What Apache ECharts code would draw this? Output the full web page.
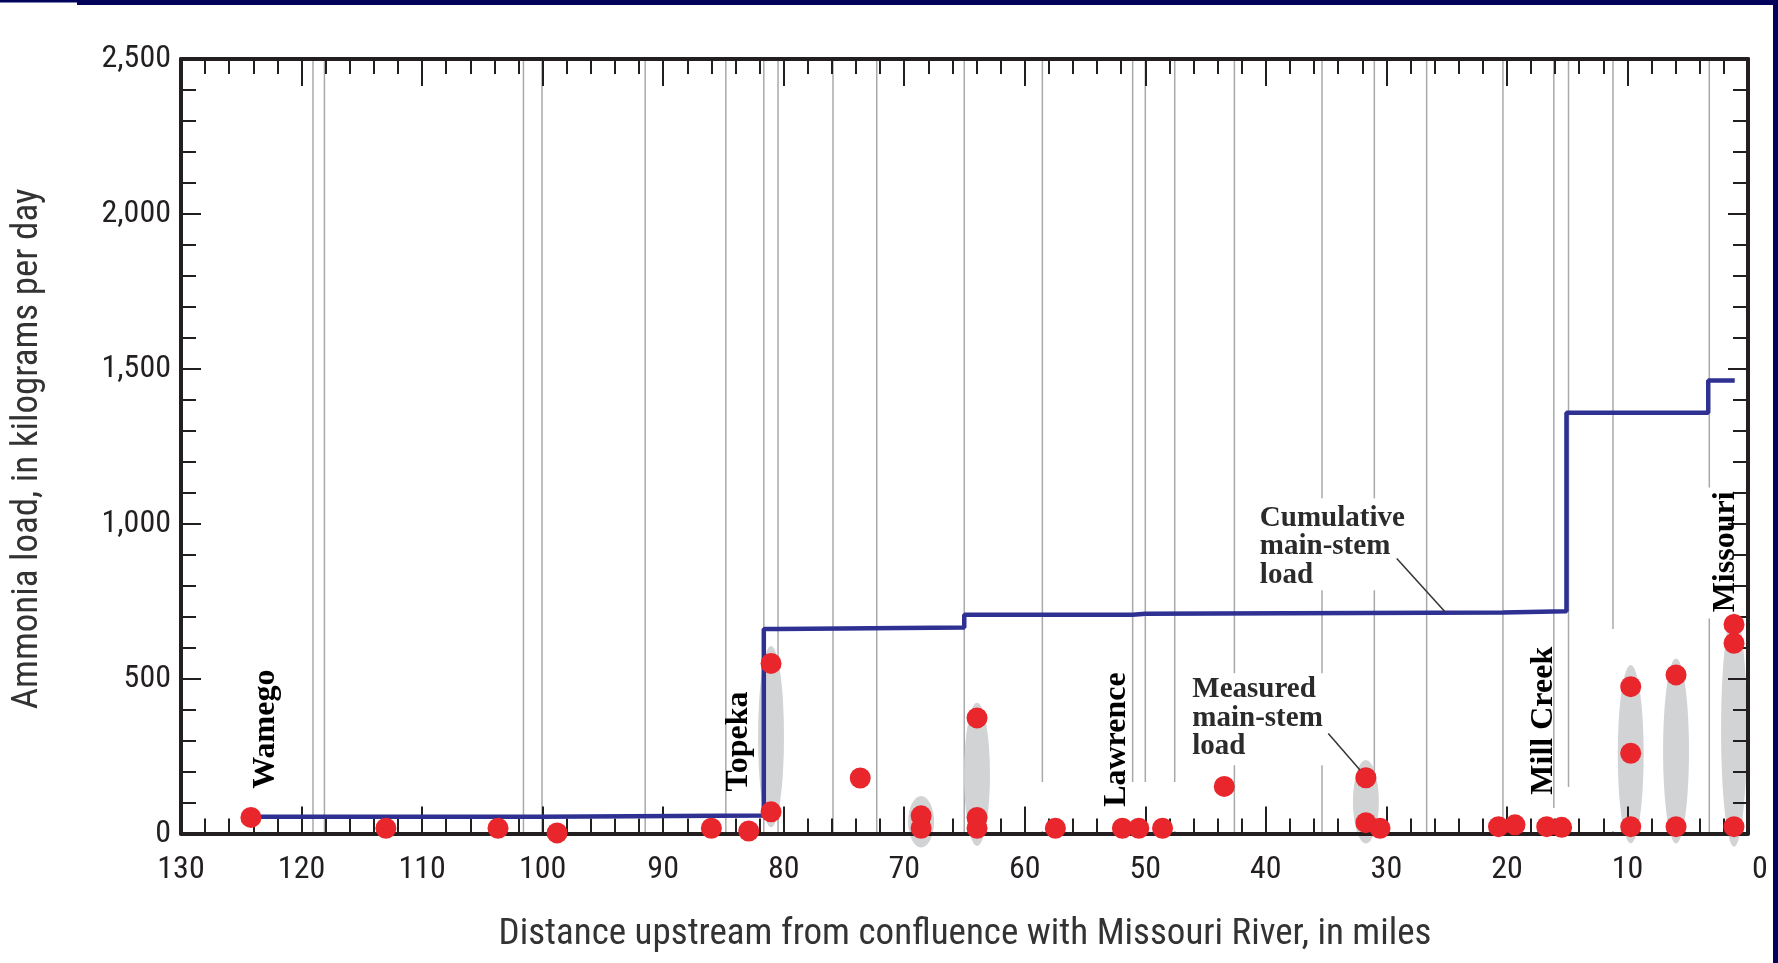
<!DOCTYPE html>
<html><head><meta charset="utf-8">
<script src="https://cdn.jsdelivr.net/npm/echarts@6/dist/echarts.min.js"></script>
<style>html,body{margin:0;padding:0;background:#fff;}#c{width:1778px;height:963px;}</style>
</head><body><div id="c"></div>
<script>
// ---------- data ----------
const xTickLabels = ['0','10','20','30','40','50','60','70','80','90','100','110','120','130'];
const yTickLabels = ['0','500','1,000','1,500','2,000','2,500'];

// measured main-stem load (red dots): river mile, kg/day
const measuredMiles = [124.2, 113.0, 103.7, 98.8, 86.0, 82.9, 81.05, 81.05, 73.65, 68.6, 68.6, 63.96, 63.96, 63.96, 57.46, 51.9, 50.54, 48.57, 43.45, 31.7, 31.7, 30.53, 20.7, 19.33, 16.7, 15.46, 9.73, 9.73, 9.73, 5.97, 5.97, 1.16, 1.16, 1.16];
const measuredLoads = [52, 17, 17, 2, 17, 8, 549, 70, 179, 57, 17, 373, 52, 17, 17, 17, 17, 17, 152, 180, 35, 17, 22, 28, 22, 20, 474, 259, 22, 512, 22, 675, 614, 22];

// cumulative main-stem load (blue step line)
const cumulativeMiles = [124.2, 100.05, 81.65, 80.47, 65.02, 51.05, 50.0, 20.33, 15.06, 3.3, 1.1];
const cumulativeLoads = [54, 58, 660, 665, 706, 709, 713, 717, 1358, 1462, 1462];

// tributary / facility reference lines (river miles)
const referenceMiles = [119.05, 118.1, 101.59, 100.05, 91.49, 84.8, 81.65, 80.47, 75.91, 72.28, 65.02, 58.54, 51.05, 50.0, 47.56, 42.61, 35.34, 31.0, 26.66, 20.33, 16.11, 14.89, 11.2, 3.21];

// ranges of measured loads (gray ovals): mile, low, high
const rangeMiles = [81.05, 68.6, 63.96, 31.7, 9.73, 5.97, 1.16];
const rangeLows  = [20, -45, -40, -32, -32, -32, -43];
const rangeHighs = [605, 121, 422, 237, 544, 565, 712];

const siteNames = ['Wamego', 'Topeka', 'Lawrence', 'Mill Creek', 'Missouri'];

// ---------- chart ----------
const NARROW = "'Liberation Sans Narrow','Arial Narrow','Roboto Condensed','DejaVu Sans Condensed',sans-serif";
const SERIF = "'Liberation Serif','Times New Roman',serif";
const AX = '#231f20';
const OVAL_W_MI = 2.15;

const chart = echarts.init(document.getElementById('c'), null, {renderer: 'canvas'});

function xAxisDef(pos, labels) {
  return {
    type: 'value', position: pos, min: 0, max: 130, interval: 10, inverse: true, z: 4,
    axisLine: {show: true, onZero: false, lineStyle: {color: AX, width: 4}},
    axisTick: {show: true, inside: true, length: 27, lineStyle: {color: AX, width: 2}},
    minorTick: {show: true, splitNumber: 5, length: 15, lineStyle: {color: AX, width: 2}},
    splitLine: {show: false}, minorSplitLine: {show: false},
    axisLabel: labels ? {
      show: true, margin: 20, fontSize: 32, color: AX, fontFamily: NARROW,
      formatter: v => { const s = xTickLabels[Math.round(v / 10)]; return v === 0 ? '{z|' + s + '}' : s; },
      rich: {z: {padding: [0, 0, 0, 24], fontSize: 32, color: AX, fontFamily: NARROW}}
    } : {show: false}
  };
}
function yAxisDef(pos, labels) {
  return {
    type: 'value', position: pos, min: 0, max: 2500, interval: 500, z: 4,
    axisLine: {show: true, onZero: false, lineStyle: {color: AX, width: 4}},
    axisTick: {show: true, inside: true, length: 20, lineStyle: {color: AX, width: 2}},
    minorTick: {show: true, splitNumber: 5, length: 15, lineStyle: {color: AX, width: 2}},
    splitLine: {show: false}, minorSplitLine: {show: false},
    axisLabel: labels ? {
      show: true, margin: 10, fontSize: 32, color: AX, fontFamily: NARROW,
      formatter: v => yTickLabels[Math.round(v / 500)]
    } : {show: false}
  };
}

const option = {
  animation: false,
  backgroundColor: '#ffffff',
  grid: {left: 181, right: 30, top: 59, bottom: 129.5, containLabel: false},
  xAxis: [xAxisDef('bottom', true), xAxisDef('top', false)],
  yAxis: [yAxisDef('left', true), yAxisDef('right', false)],
  series: [
    {
      type: 'custom', name: 'reference', z: 1, silent: true, clip: false,
      data: referenceMiles.map(m => [m, 0]),
      encode: {x: 0, y: 1},
      renderItem: (params, api) => {
        const p0 = api.coord([api.value(0), 0]);
        const p1 = api.coord([api.value(0), 2500]);
        return {type: 'line', shape: {x1: p0[0], y1: p0[1], x2: p1[0], y2: p1[1]},
          style: {stroke: '#a7a9ac', lineWidth: 1.5}};
      }
    },
    {
      type: 'custom', name: 'range', z: 3, silent: true, clip: false,
      data: rangeMiles.map((m, i) => [m, rangeLows[i], rangeHighs[i]]),
      encode: {x: 0, y: [1, 2]},
      renderItem: (params, api) => {
        const lo = api.coord([api.value(0), api.value(1)]);
        const hi = api.coord([api.value(0), api.value(2)]);
        const w = api.size([OVAL_W_MI, 0])[0];
        const ry = Math.abs(lo[1] - hi[1]) / 2;
        const rx = w / 2;
        return {type: 'circle', x: lo[0], y: (lo[1] + hi[1]) / 2, scaleX: rx / ry, scaleY: 1,
          shape: {cx: 0, cy: 0, r: ry}, style: {fill: '#d1d3d4'}};
      }
    },
    {
      type: 'line', name: 'Cumulative main-stem load', z: 5, step: 'end', symbol: 'none',
      data: cumulativeMiles.map((m, i) => [m, cumulativeLoads[i]]),
      lineStyle: {color: '#2e3192', width: 4.5}
    },
    {
      type: 'scatter', name: 'Measured main-stem load', z: 6, clip: false,
      data: measuredMiles.map((m, i) => [m, measuredLoads[i]]),
      symbolSize: 21, itemStyle: {color: '#e8262b', opacity: 1}
    }
  ]
};
chart.setOption(option);

// ---------- annotations ----------
const P = (mile, v) => chart.convertToPixel({gridIndex: 0}, [mile, v]);
function whiteBox(m1, v1, m2, v2) {
  const a = P(m1, v1), b = P(m2, v2);
  return {type: 'rect', z: 1.5, silent: true,
    shape: {x: Math.min(a[0], b[0]), y: Math.min(a[1], b[1]), width: Math.abs(b[0] - a[0]), height: Math.abs(b[1] - a[1])},
    style: {fill: '#ffffff'}};
}
function vLabel(text, mile, v) {
  const p = P(mile, v);
  return {type: 'text', z: 7, x: p[0], y: p[1], rotation: Math.PI / 2,
    style: {text: text, font: 'bold 32px ' + SERIF, fill: '#000', align: 'center', verticalAlign: 'middle'}};
}
function note(text, mile, v) {
  const p = P(mile, v);
  return {type: 'text', z: 7, x: p[0], y: p[1],
    style: {text: text, font: 'bold 29px ' + SERIF, lineHeight: 28.5, fill: '#2b2b2b', align: 'left', verticalAlign: 'top'}};
}
function leader(m1, v1, m2, v2) {
  const a = P(m1, v1), b = P(m2, v2);
  return {type: 'line', z: 7, shape: {x1: a[0], y1: a[1], x2: b[0], y2: b[1]}, style: {stroke: '#333', lineWidth: 1.5}};
}

const g = [
  // frame (navy slide border)
  {type: 'rect', z: 10, shape: {x: 77, y: 0, width: 1701, height: 5}, style: {fill: '#03035c'}},
  {type: 'rect', z: 10, shape: {x: 0, y: 0, width: 77, height: 2.5}, style: {fill: '#03035c'}},
  {type: 'rect', z: 10, shape: {x: 1773, y: 0, width: 5, height: 963}, style: {fill: '#03035c'}},
  // white knock-outs behind labels
  whiteBox(40.6, 1082, 28.0, 785),
  whiteBox(46.3, 517, 34.85, 220),
  whiteBox(58.9, 166, 46.1, 8),
  whiteBox(15.2, 150, 11.5, 8),
  whiteBox(18.2, 82, 11.5, 8),
  whiteBox(11.7, 660, 3.9, 8),
  whiteBox(3.7, 1117, 0.5, 694),
  // site labels
  vLabel(siteNames[0], 122.95, 337),
  vLabel(siteNames[1], 83.73, 297),
  vLabel(siteNames[2], 52.4, 303),
  vLabel(siteNames[3], 16.98, 364),
  vLabel(siteNames[4], 1.83, 909),
  // callouts
  note('Cumulative\nmain-stem\nload', 40.5, 1064),
  note('Measured\nmain-stem\nload', 46.1, 510),
  leader(29.14, 888, 25.14, 716),
  leader(34.82, 323, 32.19, 205),
  // axis titles
  {type: 'text', z: 7, x: 28, y: 449, rotation: Math.PI / 2,
    style: {text: 'Ammonia load, in kilograms per day', font: '37px ' + NARROW, fill: '#333', align: 'center', verticalAlign: 'middle'}},
  {type: 'text', z: 7, x: 965, y: 934.5,
    style: {text: 'Distance upstream from confluence with Missouri River, in miles', font: '37px ' + NARROW, fill: '#333', align: 'center', verticalAlign: 'middle'}}
];
chart.setOption({graphic: {elements: g}});
</script>
</body></html>
